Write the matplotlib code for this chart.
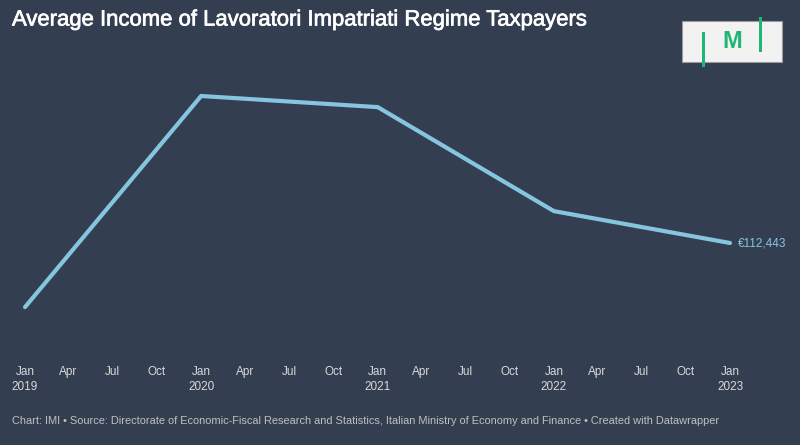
import matplotlib
matplotlib.use("Agg")
import matplotlib.pyplot as plt
import matplotlib.patheffects as pe
from matplotlib.patches import Rectangle
import datetime as dt

# data (only the last value is labelled)
years = [2019, 2020, 2021, 2022, 2023]
income = [90000, 163900, 160000, 123600, 112443]
tick_months = [1, 4, 7, 10]
month_names = {1: "Jan", 4: "Apr", 7: "Jul", 10: "Oct"}

bg = "#333f50"
line_col = "#86c5e0"
txt_col = "#d9d9d9"

plt.rcParams['font.family'] = ['Liberation Sans', 'DejaVu Sans']

fig = plt.figure(figsize=(8, 4.45), dpi=100, facecolor=bg)
ax = fig.add_axes([25/800, 1 - 330/445, 705/800, 270/445])
ax.set_facecolor(bg)

dates = [dt.date(y, 1, 1) for y in years]
ax.plot(dates, income, color=line_col, linewidth=3, solid_capstyle='round',
        solid_joinstyle='miter', clip_on=False)
ax.annotate("€{:,}".format(income[-1]), (dates[-1], income[-1]),
            xytext=(6, 0), textcoords='offset points', color=line_col,
            fontsize=8.5, va='center', ha='left')

ax.set_xlim(dates[0], dates[-1])
ax.set_ylim(81993, 176493)

ticks, labels = [], []
for y in range(years[0], years[-1] + 1):
    for m in tick_months:
        d = dt.date(y, m, 1)
        if d > dates[-1]:
            break
        ticks.append(d)
        labels.append(month_names[m] + ("\n" + str(y) if m == 1 else ""))
ax.set_xticks(ticks)
ax.set_xticklabels(labels, color=txt_col, fontsize=8.5, va='top', linespacing=1.3)
ax.tick_params(axis='x', length=0, pad=26)
ax.set_yticks([])
for s in ax.spines.values():
    s.set_visible(False)

fig.text(12/800, 1 - 20/445, "Average Income of Lavoratori Impatriati Regime Taxpayers",
         color="white", fontsize=15.9, va='center', ha='left',
         path_effects=[pe.withStroke(linewidth=0.5, foreground="white")])
fig.text(12/800, 1 - 421/445,
         "Chart: IMI • Source: Directorate of Economic-Fiscal Research and Statistics, "
         "Italian Ministry of Economy and Finance • Created with Datawrapper",
         color="#bfbfbf", fontsize=7.9, va='center', ha='left')

# logo
green = "#1fb574"
fig.patches.append(Rectangle((682/800, 1 - 62/445), 100/800, 41/445,
                             transform=fig.transFigure, facecolor="#f2f2f2",
                             edgecolor="#9a9a9a", linewidth=0.8))
fig.patches.append(Rectangle((701.5/800, 1 - 67/445), 3.5/800, 35/445,
                             transform=fig.transFigure, facecolor=green, edgecolor='none'))
fig.patches.append(Rectangle((758.5/800, 1 - 52/445), 3.5/800, 35/445,
                             transform=fig.transFigure, facecolor=green, edgecolor='none'))
fig.text(732.5/800, 1 - 42/445, "M", color=green, fontsize=17, fontweight='bold',
         ha='center', va='center', family='Liberation Sans')

fig.savefig("out.png", dpi=100, facecolor=bg)
